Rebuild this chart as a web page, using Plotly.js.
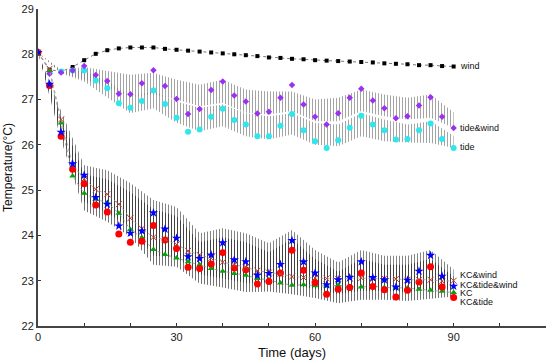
<!DOCTYPE html>
<html>
<head>
<meta charset="utf-8">
<script src="https://cdn.plot.ly/plotly-3.0.1.min.js"></script>
<style>html,body{margin:0;padding:0;background:#fff;}#chart{width:550px;height:360px;}</style>
</head>
<body>
<div id="chart"></div>
<script>
// ---- data ----
var days = [0,2.5,5,7.5,10,12.5,15,17.5,20,22.5,25,27.5,30,32.5,35,37.5,40,42.5,45,47.5,50,52.5,55,57.5,60,62.5,65,67.5,70,72.5,75,77.5,80,82.5,85,87.5,90];

var wind = [28.04,27.66,27.62,27.72,27.87,28.01,28.09,28.13,28.15,28.15,28.15,28.12,28.10,28.08,28.06,28.04,28.02,28.00,27.98,27.96,27.93,27.92,27.90,27.89,27.87,27.86,27.85,27.84,27.83,27.82,27.80,27.79,27.78,27.76,27.76,27.74,27.73];
var tideWind = [28.04,27.57,27.60,27.64,27.74,27.54,27.41,27.13,27.12,27.36,27.65,27.30,27.01,26.68,26.79,27.21,27.40,27.09,26.96,26.69,26.73,27.04,27.32,26.89,26.62,26.45,26.70,27.04,27.24,26.98,26.81,26.59,26.63,26.87,27.05,26.62,26.37];
var tide = [28.04,27.60,27.62,27.64,27.64,27.42,27.25,26.92,26.82,26.97,27.20,26.90,26.60,26.29,26.34,26.62,26.80,26.55,26.45,26.19,26.19,26.42,26.68,26.32,26.08,25.93,26.10,26.38,26.64,26.45,26.32,26.12,26.13,26.32,26.47,26.13,25.93];
var kcWind = [28.04,27.68,26.56,25.55,25.25,25.02,24.91,24.69,24.38,24.15,23.96,23.91,23.80,23.66,23.57,23.50,23.41,23.35,23.30,23.22,23.18,23.15,23.09,23.07,23.06,23.05,23.04,23.05,23.06,23.04,23.05,23.04,23.02,23.02,23.02,22.99,23.00];
var kcTideWind = [28.04,27.34,26.28,25.58,25.33,24.84,24.69,24.21,24.05,24.10,24.50,24.14,23.94,23.53,23.49,23.57,23.84,23.46,23.42,23.12,23.16,23.36,23.89,23.42,23.17,22.91,23.02,23.07,23.42,23.07,23.02,22.86,23.01,23.21,23.56,23.10,22.88];
var kc = [28.04,27.64,26.48,25.31,24.93,24.80,24.72,24.49,24.13,23.95,23.69,23.58,23.50,23.42,23.35,23.27,23.21,23.16,23.12,23.05,23.02,22.95,22.90,22.91,22.89,22.88,22.90,22.87,22.86,22.88,22.85,22.84,22.84,22.81,22.79,22.77,22.74];
var kcTide = [28.04,27.31,26.19,25.46,25.14,24.67,24.52,24.03,23.85,23.87,24.22,23.90,23.71,23.30,23.27,23.37,23.62,23.28,23.24,22.93,22.98,23.17,23.67,23.23,22.96,22.70,22.81,22.85,23.17,22.87,22.80,22.64,22.79,22.97,23.31,22.86,22.63];

// envelopes of the tidal oscillation (every 5 days)
var bandDays = [0,5,10,15,20,25,30,35,40,45,50,55,60,65,70,75,80,85,90];
var tideWindHi = [28.04,27.66,27.72,27.64,27.55,27.59,27.44,27.33,27.44,27.22,27.18,27.18,27.00,27.04,27.22,27.11,27.04,27.11,26.72];
var tideWindLo = [28.04,27.58,27.45,27.27,27.07,27.11,27.00,26.85,26.93,26.71,26.67,26.75,26.52,26.52,26.75,26.63,26.56,26.60,26.37];
var tideHi = [28.04,27.64,27.62,27.42,27.07,27.18,26.96,26.82,26.89,26.70,26.63,26.70,26.48,26.45,26.70,26.56,26.45,26.52,26.20];
var tideLo = [28.04,27.58,27.40,27.05,26.70,26.81,26.49,26.30,26.41,26.19,26.12,26.23,26.00,25.97,26.19,26.08,26.05,26.04,25.93];
var kcTideWindHi = [28.04,26.75,25.55,25.44,25.16,24.78,24.63,24.05,24.16,24.05,23.83,24.12,23.68,23.40,23.68,23.55,23.55,23.68,23.25];
var kcTideWindLo = [28.04,26.25,24.75,24.50,24.17,23.55,23.51,23.14,23.05,22.95,22.96,22.90,22.82,22.70,22.78,22.78,22.75,22.80,22.80];
var kcTideHi = [28.04,26.60,25.35,25.24,24.96,24.58,24.43,23.85,23.96,23.85,23.63,23.92,23.48,23.20,23.48,23.35,23.35,23.48,23.10];
var kcTideLo = [28.04,26.10,24.55,24.30,23.97,23.35,23.31,22.94,22.85,22.75,22.76,22.70,22.62,22.50,22.58,22.58,22.55,22.60,22.65];

var labelNames = ['wind','tide&wind','tide','KC&wind','KC&tide&wind','KC','KC&tide'];
var labelY = [27.74,26.37,25.96,23.12,22.90,22.72,22.52];

// ---- traces ----
function band(lo, hi, col) {
  return [
    {x: bandDays, y: lo, mode: 'lines', line: {width: 0, color: 'rgba(0,0,0,0)'}, hoverinfo: 'skip', showlegend: false},
    {x: bandDays, y: hi, mode: 'lines', line: {width: 0, color: 'rgba(0,0,0,0)'}, fill: 'tonexty',
     fillcolor: 'rgba(0,0,0,0)',
     fillpattern: {shape: '|', size: 3, solidity: 0.34, fgcolor: col, bgcolor: 'rgba(0,0,0,0)'},
     hoverinfo: 'skip', showlegend: false}
  ];
}
var traces = [];
traces = traces.concat(band(tideWindLo, tideWindHi, 'rgba(125,125,125,0.7)'));
traces = traces.concat(band(tideLo, tideHi, 'rgba(125,125,125,0.7)'));
traces = traces.concat(band(kcTideWindLo, kcTideWindHi, 'rgba(50,50,50,0.6)'));
traces = traces.concat(band(kcTideLo, kcTideHi, 'rgba(20,20,20,0.6)'));

traces.push({x: days, y: wind, mode: 'lines+markers', line: {color: '#777', width: 1, dash: 'dot'},
  marker: {symbol: 'square', size: 4, color: '#000'}, showlegend: false});
traces.push({x: days, y: tide, mode: 'markers', marker: {symbol: 'circle', size: 6, color: '#2ee6ec'}, showlegend: false});
traces.push({x: days, y: tideWind, mode: 'markers', marker: {symbol: 'diamond', size: 5, color: '#9b30f0'}, showlegend: false});
traces.push({x: days, y: kc, mode: 'lines+markers', line: {color: '#888', width: 0.8, dash: 'dot'},
  marker: {symbol: 'triangle-up', size: 6, color: '#0aa20a'}, showlegend: false});
traces.push({x: days, y: kcTide, mode: 'markers', marker: {symbol: 'circle', size: 7, color: '#ff0000'}, showlegend: false});
traces.push({x: days, y: kcWind, mode: 'lines+markers', line: {color: '#999', width: 0.8, dash: 'dot'},
  marker: {symbol: 'x-thin-open', size: 6, color: '#c0392b', line: {color: '#c0392b', width: 1}}, showlegend: false});
traces.push({x: days, y: kcTideWind, mode: 'markers', marker: {symbol: 'star', size: 7, color: '#0000ff'}, showlegend: false});

var annotations = labelNames.map(function (t, i) {
  return {x: 91.2, y: labelY[i], xref: 'x', yref: 'y', text: t, showarrow: false,
    xanchor: 'left', yanchor: 'middle', borderpad: 0,
    font: {family: 'Liberation Sans, Arial, sans-serif', size: 9, color: '#111'}};
});

var layout = {
  width: 550, height: 360,
  margin: {l: 38, r: 4, t: 9, b: 34},
  paper_bgcolor: '#fff', plot_bgcolor: '#fff',
  showlegend: false,
  font: {family: 'Liberation Sans, Arial, sans-serif', size: 11, color: '#222'},
  xaxis: {range: [0, 110], tick0: 0, dtick: 30, ticks: 'inside', ticklen: 3, tickcolor: '#333',
    showgrid: false, zeroline: false, showline: true, linecolor: '#444', linewidth: 2,
    minor: {dtick: 10, ticks: 'inside', ticklen: 3, tickcolor: '#333', showgrid: false},
    tickfont: {size: 11, color: '#222'},
    title: {text: 'Time (days)', font: {size: 13, color: '#111'}, standoff: 6}},
  yaxis: {range: [22, 29], dtick: 1, ticks: 'inside', ticklen: 3, tickcolor: '#333',
    showgrid: false, zeroline: false, showline: true, linecolor: '#444', linewidth: 2,
    tickfont: {size: 11, color: '#222'},
    title: {text: 'Temperature(°C)', font: {size: 12, color: '#111'}, standoff: 6}},
  annotations: annotations
};

Plotly.newPlot('chart', traces, layout, {displayModeBar: false, staticPlot: true});
</script>
</body>
</html>
